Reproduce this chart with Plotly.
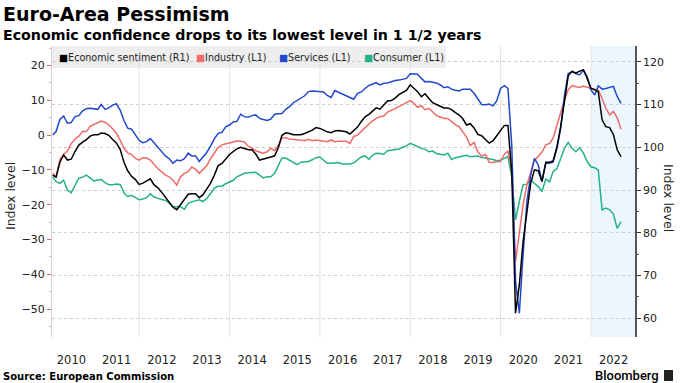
import plotly.graph_objects as go
import pandas as pd

# ---------------- data (monthly, Jan 2010 .. Aug 2022) ----------------
start_month = "2010-01-01"
n_months = 152

sentiment_r1 = [
    93.5, 93.0, 96.5, 98.2, 97.0, 97.2, 99.0, 100.5, 101.2, 101.8, 102.6, 102.9,
    102.9, 103.3, 103.2, 102.8, 101.8, 101.0, 99.5, 96.5, 94.5, 93.2, 92.5, 91.3,
    91.6, 92.0, 92.6, 91.2, 90.5, 89.5, 88.3, 87.0, 86.0, 85.4, 86.5, 87.8,
    89.0, 89.1, 89.1, 88.2, 88.9, 90.2, 91.6, 93.5, 95.7, 96.2, 97.3, 98.3,
    99.0, 99.6, 100.0, 99.7, 99.4, 99.4, 98.4, 97.0, 97.2, 97.4, 97.7, 98.0,
    100.0, 102.8, 103.4, 103.2, 102.9, 102.9, 102.9, 103.2, 103.6, 104.0, 104.6, 104.4,
    104.0, 103.6, 103.4, 103.8, 103.9, 103.8, 103.6, 103.1, 103.9, 104.7, 106.0, 107.1,
    107.7, 108.4, 109.2, 108.9, 109.8, 110.8, 110.9, 111.5, 112.3, 112.9, 113.3, 114.6,
    113.8, 113.0, 111.8, 112.5, 111.4, 110.4, 110.0, 109.5, 109.2, 109.2, 108.8, 108.1,
    107.5, 106.7, 105.2, 105.5, 104.5, 103.0, 102.7, 101.8, 101.0, 101.5, 102.6, 103.8,
    105.1, 105.1, 94.0, 61.2, 67.8, 77.9, 85.5, 91.6, 94.7, 94.5, 92.0, 96.5,
    96.5, 96.8, 100.1, 104.8, 110.7, 116.7, 117.8, 117.3, 117.8, 118.1, 116.1, 113.8,
    113.4, 113.0, 106.4, 104.8, 104.6, 103.0, 99.4, 97.8,
]

industry_l1 = [
    -11.0, -12.0, -7.0, -5.5, -4.6, -2.5, -1.2, -0.3, 1.0, 1.0, 2.5, 3.0,
    3.6, 4.0, 3.7, 2.9, 1.8, 0.6, -1.5, -3.8, -5.1, -5.6, -6.6, -7.2,
    -6.5, -6.6, -7.2, -8.6, -9.7, -10.5, -11.5, -12.0, -13.0, -14.4, -12.0, -11.0,
    -10.5, -9.2, -9.8, -11.0, -10.0, -8.8, -6.8, -5.0, -3.6, -2.8, -2.5, -2.2,
    -1.9, -1.7, -1.8, -2.0, -3.2, -3.7, -4.5, -4.9, -5.2, -4.8, -3.8, -4.5,
    -2.8, -0.8, -0.8, -1.1, -1.2, -1.2, -1.4, -1.6, -1.2, -1.6, -1.4, -1.5,
    -1.6, -1.9, -1.4, -1.9, -1.8, -1.7, -1.8, -2.4, -0.4, 0.0, 1.1, 2.3,
    3.2, 4.0, 4.8, 5.3, 5.5, 6.6, 7.0, 7.6, 8.2, 8.8, 9.3, 9.9,
    9.1, 8.0, 8.4, 7.3, 7.7, 6.6, 5.6, 5.2, 4.8, 4.8, 3.8, 3.0,
    2.4, 1.0, -0.6, -3.0, -2.1, -4.8, -6.0, -5.6, -7.8, -7.9, -7.6, -7.6,
    -5.5, -4.6, -10.0, -36.4, -28.7, -20.1, -14.3, -10.5, -7.2, -6.2, -4.8, -2.8,
    -2.4, -0.9, 2.9, 6.7, 10.1, 13.0, 14.2, 13.9, 13.7, 14.1, 13.7, 13.4,
    13.2, 13.0, 10.5, 7.7, 5.8, 6.8, 5.0, 1.7,
]

services_l1 = [
    0.0, 1.0, 4.5, 5.5, 3.4, 3.6, 5.3, 5.6, 7.0, 7.6, 7.7, 7.5,
    7.4, 8.8, 7.4, 7.8, 8.6, 9.0, 7.2, 4.2, 2.0, 1.7, 0.3, -1.5,
    -2.2, -1.9, -1.0, -2.2, -3.6, -4.8, -6.0, -6.8, -8.1, -7.2, -7.4, -6.8,
    -5.2, -6.0, -6.0, -7.6, -6.2, -5.0, -3.2, -1.0, 0.5, 0.8, 2.4, 2.9,
    3.8, 3.9, 6.0, 5.3, 5.1, 5.6, 5.8, 4.8, 4.5, 4.2, 4.6, 6.0,
    6.1, 6.2, 7.4, 8.2, 9.3, 10.0, 10.7, 11.3, 12.5, 12.7, 12.6, 12.5,
    12.4, 11.4, 10.8, 12.8, 12.3, 11.7, 11.2, 10.6, 10.3, 12.0, 12.4, 13.4,
    14.3, 14.6, 15.1, 14.4, 14.9, 15.0, 15.4, 15.7, 15.8, 16.0, 16.3, 17.6,
    17.6, 17.5, 16.3, 15.3, 15.4, 15.2, 15.0, 14.4, 13.6, 13.9, 13.2, 12.9,
    12.7, 13.2, 13.2, 13.2, 12.0, 10.6, 8.8, 8.7, 8.9, 8.4, 9.8, 13.4,
    14.2, 13.4, -3.0, -42.0, -51.2, -34.5, -19.1, -11.5, -6.7, -8.6, -13.4, -8.1,
    -8.1, -7.8, -3.8, 1.9, 11.5, 17.7, 18.2, 17.7, 17.3, 18.7, 16.8, 13.0,
    11.5, 14.2, 13.2, 13.4, 13.7, 14.0, 11.1, 9.1,
]

consumer_l1 = [
    -12.0, -13.4, -13.9, -13.0, -15.8, -16.6, -14.5, -12.4, -12.1, -11.5, -12.3, -13.2,
    -12.9, -12.8, -13.7, -14.3, -14.3, -14.1, -14.2, -16.6, -17.7, -17.3, -17.9, -18.6,
    -18.4, -18.0, -16.9, -17.8, -18.2, -18.5, -18.8, -19.6, -20.6, -20.6, -20.6, -21.3,
    -19.6, -19.2, -18.8, -18.6, -19.1, -18.2, -16.8, -15.2, -14.7, -14.7, -14.0, -13.6,
    -13.0, -12.0, -11.4, -11.0, -10.8, -10.8, -10.7, -11.5, -12.3, -12.0, -12.0, -11.0,
    -8.8, -6.6, -6.6, -7.2, -7.8, -8.5, -7.8, -7.6, -7.6, -7.1, -6.5, -6.3,
    -7.2, -8.1, -8.1, -8.0, -7.9, -8.3, -8.3, -8.3, -8.0, -7.2, -6.3, -6.0,
    -7.0, -5.8, -5.2, -5.3, -5.5, -4.5, -4.3, -4.3, -4.0, -3.5, -3.1, -2.4,
    -2.9, -3.3, -3.8, -4.1, -4.8, -4.6, -5.3, -5.5, -5.7, -5.2, -7.0, -6.5,
    -6.3, -6.2, -5.8, -6.2, -6.1, -6.0, -6.4, -6.7, -6.8, -7.0, -7.4, -7.2,
    -6.6, -6.2, -12.0, -24.4, -19.1, -14.3, -14.1, -12.9, -13.9, -14.8, -16.2, -12.6,
    -13.4, -10.5, -9.6, -6.7, -3.8, -2.1, -3.8, -4.8, -3.6, -5.2, -7.6, -9.1,
    -9.4, -10.0, -21.5, -21.0, -21.5, -22.7, -26.8, -24.9,
]

year_labels = [str(y) for y in range(2010, 2023)]
left_ticks = [-50, -40, -30, -20, -10, 0, 10, 20]
right_ticks = [60, 70, 80, 90, 100, 110, 120]
grid_years = [2012, 2014, 2016, 2018, 2020, 2022]
shade_start = "2022-01-01"

series_names = ["Economic sentiment (R1)", "Industry (L1)", "Services (L1)", "Consumer (L1)"]

# ---------------- styling ----------------
BLACK = "#000000"
RED = "#f06a6a"
BLUE = "#2047cc"
GREEN = "#22b18a"
FONT = "DejaVu Sans"

dates = pd.date_range(start_month, periods=n_months, freq="MS") + pd.offsets.MonthEnd(0)

W, H = 680, 383
L, R, T, B = 52, 45, 46, 46
PW, PH = W - L - R, H - T - B


def px_x(px):
    return (px - L) / PW


def px_y(py):
    return 1 - (py - T) / PH


fig = go.Figure()
fig.add_trace(go.Scatter(x=dates, y=consumer_l1, mode="lines", name=series_names[3],
                         line=dict(color=GREEN, width=1.5), yaxis="y", showlegend=False))
fig.add_trace(go.Scatter(x=dates, y=industry_l1, mode="lines", name=series_names[1],
                         line=dict(color=RED, width=1.5), yaxis="y", showlegend=False))
fig.add_trace(go.Scatter(x=dates, y=services_l1, mode="lines", name=series_names[2],
                         line=dict(color=BLUE, width=1.5), yaxis="y", showlegend=False))
fig.add_trace(go.Scatter(x=dates, y=sentiment_r1, mode="lines", name=series_names[0],
                         line=dict(color=BLACK, width=1.5), yaxis="y2", showlegend=False))

shapes = []
# shaded recent period
shapes.append(dict(type="rect", xref="x", yref="paper", x0=shade_start, x1="2022-12-22",
                   y0=0, y1=1, fillcolor="#ebf7fc", line=dict(width=0), layer="below"))
# legend band
shapes.append(dict(type="rect", xref="paper", yref="paper", x0=0, x1=px_x(446),
                   y0=px_y(68), y1=1, fillcolor="#eeeeee", line=dict(width=0), layer="below"))
# vertical grid lines every two years
for gy in grid_years:
    shapes.append(dict(type="line", xref="x", yref="paper", x0=f"{gy}-01-01", x1=f"{gy}-01-01",
                       y0=0, y1=1, line=dict(color="#e2e2e2", width=1), layer="below"))
# Bloomberg logo glyph
shapes.append(dict(type="rect", xref="paper", yref="paper", x0=px_x(664), x1=px_x(673),
                   y0=px_y(381), y1=px_y(370), fillcolor="#222222", line=dict(width=0)))

annotations = []
annotations.append(dict(text="<b>Euro-Area Pessimism</b>", xref="paper", yref="paper",
                        x=px_x(1), y=px_y(14), xanchor="left", yanchor="middle", showarrow=False,
                        font=dict(family=FONT, size=19, color="#000")))
annotations.append(dict(text="<b>Economic confidence drops to its lowest level in 1 1/2 years</b>",
                        xref="paper", yref="paper", x=px_x(1), y=px_y(35), xanchor="left",
                        yanchor="middle", showarrow=False,
                        font=dict(family=FONT, size=14.2, color="#000")))
# legend items
legend_x = [57, 194, 277, 362]
legend_colors = [BLACK, RED, BLUE, GREEN]
for name, lx, col in zip(series_names, legend_x, legend_colors):
    annotations.append(dict(text=f'<span style="color:{col}">■</span>{name}', xref="paper",
                            yref="paper", x=px_x(lx), y=px_y(57.5), xanchor="left",
                            yanchor="middle", showarrow=False,
                            font=dict(family=FONT, size=9.6, color="#222")))
# axis titles
annotations.append(dict(text="Index level", xref="paper", yref="paper", x=px_x(11), y=px_y(196),
                        xanchor="center", yanchor="middle", textangle=-90, showarrow=False,
                        font=dict(family=FONT, size=12.5, color="#222")))
annotations.append(dict(text="Index level", xref="paper", yref="paper", x=px_x(669), y=px_y(198),
                        xanchor="center", yanchor="middle", textangle=90, showarrow=False,
                        font=dict(family=FONT, size=12.5, color="#222")))
# footer
annotations.append(dict(text="<b>Source: European Commission</b>", xref="paper", yref="paper",
                        x=px_x(1), y=px_y(376), xanchor="left", yanchor="middle", showarrow=False,
                        font=dict(family=FONT, size=10, color="#000")))
annotations.append(dict(text="Bloomberg", xref="paper", yref="paper", x=px_x(661), y=px_y(375),
                        xanchor="right", yanchor="middle", showarrow=False,
                        font=dict(family="Roboto", size=13, color="#000", weight=500)))

fig.update_layout(
    width=W, height=H,
    margin=dict(l=L, r=R, t=T, b=B),
    paper_bgcolor="white", plot_bgcolor="white",
    font=dict(family=FONT, size=11, color="#222"),
    showlegend=False,
    shapes=shapes,
    annotations=annotations,
    xaxis=dict(
        type="date", range=["2010-01-26", "2022-12-22"],
        tickmode="array", tickvals=[f"{y}-07-02" for y in year_labels], ticktext=year_labels,
        ticks="", showgrid=False, showline=False, zeroline=False,
        tickfont=dict(family=FONT, size=11.5, color="#222"), ticklabelstandoff=14,
    ),
    yaxis=dict(
        range=[-58.05, 25.61], tickmode="array", tickvals=left_ticks,
        ticks="outside", ticklen=4, tickcolor="#e8605a", tickwidth=1,
        showline=True, linecolor="#d4d4d4", linewidth=1,
        showgrid=False, zeroline=False,
        minor=dict(dtick=5, tick0=0, ticks="outside", ticklen=2, tickcolor="#f0a8a8", showgrid=False),
        tickfont=dict(family=FONT, size=11, color="#222"),
    ),
    yaxis2=dict(
        range=[55.63, 123.67], overlaying="y", side="right", tickmode="array", tickvals=right_ticks,
        ticks="outside", ticklen=4, tickcolor="#333", tickwidth=1,
        showline=True, linecolor="#555", linewidth=1.5,
        showgrid=True, gridcolor="#cccccc", griddash="dot", gridwidth=1, zeroline=False,
        minor=dict(dtick=5, tick0=0, ticks="outside", ticklen=2, tickcolor="#555", showgrid=False),
        tickfont=dict(family=FONT, size=11, color="#222"),
    ),
)

fig.write_html("out.html", config={"displayModeBar": False},
               post_script="document.body.style.margin='0';document.body.style.overflow='hidden';")
